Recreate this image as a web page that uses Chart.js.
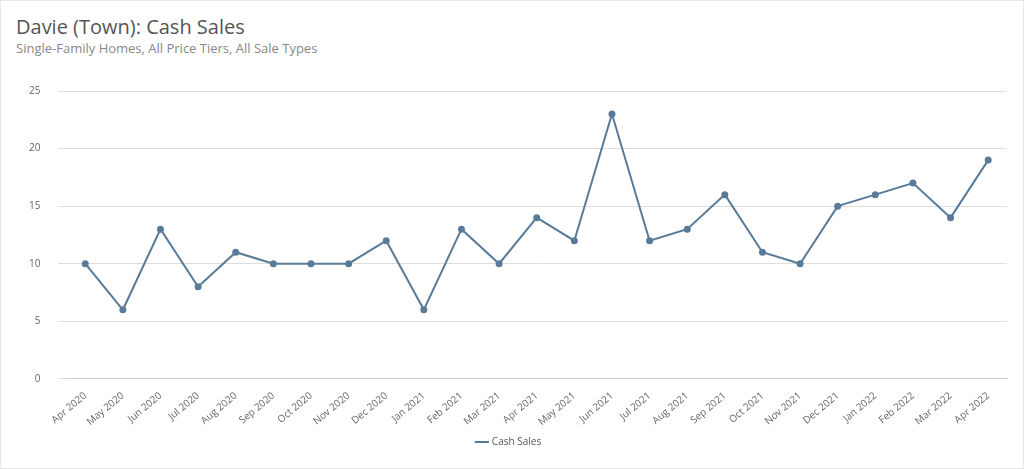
<!DOCTYPE html>
<html><head><meta charset="utf-8">
<script src="https://cdn.jsdelivr.net/npm/chart.js@4"></script>
<style>
html,body{margin:0;padding:0;background:#fff;font-family:"Open Sans",sans-serif;}
#wrap{position:relative;width:1024px;height:469px;box-sizing:border-box;border:1px solid #e6e6e6;}
#t{position:absolute;left:15px;top:12px;font-size:20px;color:#555;}
#s{position:absolute;left:15px;top:38px;font-size:13px;color:#888;}
#c{position:absolute;left:0;top:66px;}
</style></head><body>
<div id="wrap"><div id="t">Davie (Town): Cash Sales</div><div id="s">Single-Family Homes, All Price Tiers, All Sale Types</div>
<canvas id="c" width="1022" height="390"></canvas></div>
<script>
const categories=["Apr 2020","May 2020","Jun 2020","Jul 2020","Aug 2020","Sep 2020","Oct 2020","Nov 2020","Dec 2020","Jan 2021","Feb 2021","Mar 2021","Apr 2021","May 2021","Jun 2021","Jul 2021","Aug 2021","Sep 2021","Oct 2021","Nov 2021","Dec 2021","Jan 2022","Feb 2022","Mar 2022","Apr 2022"];
const cashSales=[10,6,13,8,11,10,10,10,12,6,13,10,14,12,23,12,13,16,11,10,15,16,17,14,19];
const yTicks=[0,5,10,15,20,25];
new Chart(document.getElementById('c'),{type:'line',
data:{labels:categories,datasets:[{label:'Cash Sales',data:cashSales,borderColor:'#587b99',backgroundColor:'#587b99',borderWidth:2,pointRadius:2.5,tension:0}]},
options:{responsive:false,animation:false,
layout:{padding:{left:10,right:16,top:0,bottom:0}},
plugins:{legend:{position:'bottom',labels:{padding:6,usePointStyle:true,pointStyle:'line',boxWidth:20,color:'#555',font:{size:10,family:'Open Sans'}}},tooltip:{enabled:false}},
scales:{x:{offset:true,grid:{display:false},border:{color:'#ccc'},ticks:{color:'#666',font:{size:10,family:'Open Sans'},maxRotation:40,minRotation:40}},
y:{min:0,max:25,afterBuildTicks:a=>{a.ticks=yTicks.map(v=>({value:v}));},grid:{color:'#ddd'},border:{display:false},ticks:{color:'#666',padding:18,font:{size:10,family:'Open Sans'}}}}}});
</script></body></html>
